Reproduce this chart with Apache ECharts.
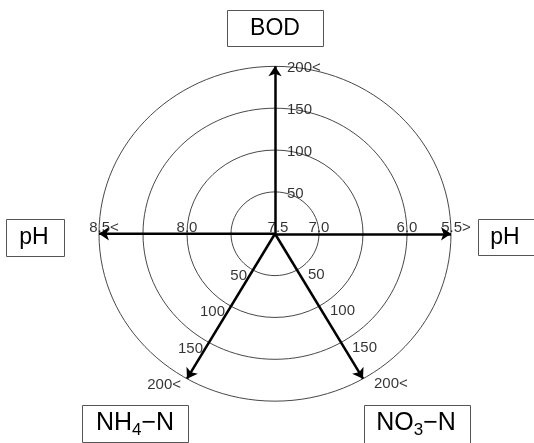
<!DOCTYPE html>
<html>
<head>
<meta charset="utf-8">
<style>
  html, body { margin: 0; padding: 0; background: #fff; }
  #main { width: 534px; height: 443px; }
</style>
<script src="https://cdn.jsdelivr.net/npm/echarts@6/dist/echarts.min.js"></script>
</head>
<body>
<div id="main"></div>
<script>
// 軸の名前・向き・目盛ラベル
const axisNames = ['BOD', 'pH', 'pH', 'NH4-N', 'NO3-N'];
const axisAngles = [90, 180, 0, 240, 300];
const ringLevels = [1, 2, 3, 4];
const bodTicks = ['50', '100', '150', '200<'];
const phLeftTicks = ['7.5', '8.0', '8.5<'];
const phLeftRings = [0, 2, 4];
const phRightTicks = ['7.0', '6.0', '5.5>'];
const phRightRings = [1, 3, 4];
const nh4Ticks = ['50', '100', '150', '200<'];
const no3Ticks = ['50', '100', '150', '200<'];

const FONT = 'Liberation Sans';

// 角度と半径から座標へ
function pointAt(angle, r) {
  const rad = angle * Math.PI / 180;
  return [r * Math.cos(rad), r * Math.sin(rad)];
}

function tickData(ticks, rings, angle, offsets) {
  return ticks.map((t, i) => {
    const item = { name: t, value: pointAt(angle, rings[i]) };
    if (offsets && offsets[i]) item.label = { offset: offsets[i] };
    return item;
  });
}

function tickSeries(data, label) {
  return {
    type: 'scatter',
    symbolSize: 0,
    silent: true,
    data: data,
    z: 5,
    label: Object.assign({
      show: true,
      formatter: '{b}',
      color: '#000',
      fontFamily: FONT,
      fontSize: 15
    }, label)
  };
}

// 枠付きの軸名（数字は下付き）
function nameBox(name, x, y, w, h, tx, ty) {
  const text = name.replace(/(\d)/, '{s|$1}').replace('-', '\u2212');
  return {
    type: 'group',
    children: [
      {
        type: 'rect',
        shape: { x: x + 0.5, y: y + 0.5, width: w, height: h },
        style: { fill: '#fff', stroke: '#555', lineWidth: 1 }
      },
      {
        type: 'text',
        x: tx,
        y: ty,
        style: {
          text: text,
          fill: '#000',
          font: (name.length > 3 ? 25 : 23) + 'px ' + FONT,
          align: 'center',
          verticalAlign: 'middle',
          rich: {
            s: { fontSize: 17, fontFamily: FONT, fill: '#000', padding: [14, 0, 0, 0] }
          }
        }
      }
    ]
  };
}

const chart = echarts.init(document.getElementById('main'));

const option = {
  animation: false,
  grid: { left: 55, width: 440, top: 24.5, height: 425 },
  xAxis: { type: 'value', min: -5, max: 5, show: false },
  yAxis: { type: 'value', min: -5, max: 5, show: false },
  graphic: [
    nameBox(axisNames[0], 227, 10, 96, 36, 275, 29),
    nameBox(axisNames[1], 6, 219, 58, 37, 34, 238),
    nameBox(axisNames[2], 478, 219, 60, 36, 505, 238),
    nameBox(axisNames[3], 82, 405, 106, 37, 135, 423),
    nameBox(axisNames[4], 364, 405, 106, 40, 416, 423)
  ],
  series: [
    {
      // 同心の目盛円
      type: 'custom',
      coordinateSystem: 'cartesian2d',
      clip: false,
      silent: true,
      data: ringLevels.map(r => [0, 0, r]),
      renderItem: function(params, api) {
        const c = api.coord([api.value(0), api.value(1)]);
        const s = api.size([api.value(2), api.value(2)]);
        return {
          type: 'ellipse',
          shape: { cx: c[0], cy: c[1], rx: s[0], ry: s[1] },
          style: { fill: 'none', stroke: '#333', lineWidth: 0.9 }
        };
      },
      z: 1
    },
    {
      // 軸の矢印
      type: 'lines',
      coordinateSystem: 'cartesian2d',
      silent: true,
      symbol: ['none', 'arrow'],
      symbolSize: [0, 10],
      lineStyle: { color: '#000', width: 2.5, opacity: 1 },
      data: axisAngles.map(a => ({ coords: [[0, 0], pointAt(a, 4)] })),
      z: 3
    },
    tickSeries(tickData(bodTicks, ringLevels, 90), { position: 'right', distance: 12, offset: [0, 2] }),
    tickSeries(tickData(phLeftTicks, phLeftRings, 180, [[3, 0], null, [5, 0]]), { position: 'top', distance: -2 }),
    tickSeries(tickData(phRightTicks, phRightRings, 0, [null, null, [5, 0]]), { position: 'top', distance: -2 }),
    tickSeries(tickData(nh4Ticks, ringLevels, 240), { position: 'left', distance: 6, offset: [0, 6] }),
    tickSeries(tickData(no3Ticks, ringLevels, 300), { position: 'right', distance: 11, offset: [0, 5] })
  ]
};

chart.setOption(option);
</script>
</body>
</html>
